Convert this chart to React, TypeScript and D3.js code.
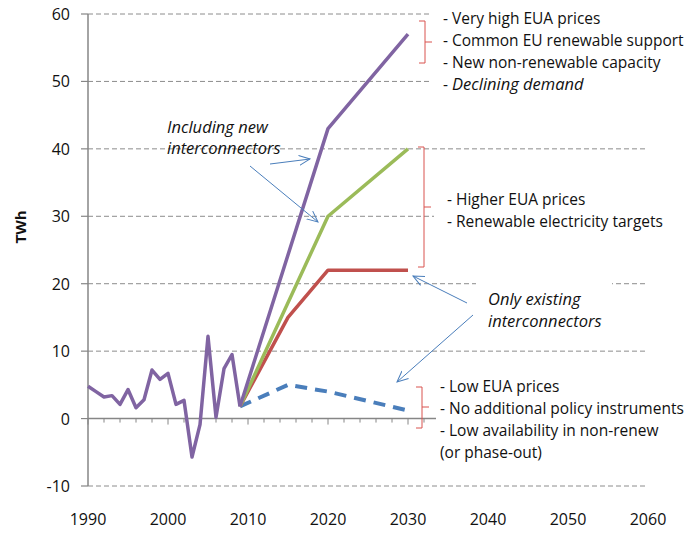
import React from "react";
import * as d3 from "d3";

const histYears = [1990, 1991, 1992, 1993, 1994, 1995, 1996, 1997, 1998, 1999, 2000, 2001, 2002, 2003, 2004, 2005, 2006, 2007, 2008, 2009];
const histValues = [4.8, 4.0, 3.2, 3.4, 2.1, 4.3, 1.6, 2.8, 7.2, 5.8, 6.7, 2.1, 2.7, -5.7, -0.9, 12.2, 0.2, 7.4, 9.5, 1.8];

const highYears = [2009, 2020, 2030];
const highValues = [1.8, 43, 57];
const greenYears = [2009, 2020, 2030];
const greenValues = [1.8, 30, 40];
const redYears = [2009, 2015, 2020, 2030];
const redValues = [1.8, 15, 22, 22];
const lowYears = [2009, 2015, 2020, 2030];
const lowValues = [1.8, 5, 4, 1.2];

const yTicks = [-10, 0, 10, 20, 30, 40, 50, 60];
const xTicks = [1990, 2000, 2010, 2020, 2030, 2040, 2050, 2060];

const topNotes = ["- Very high EUA prices", "- Common EU renewable support", "- New non-renewable capacity"];
const topItalic = "- Declining demand";
const midNotes = ["- Higher EUA prices", "- Renewable electricity targets"];
const lowNotes = ["- Low EUA  prices", "- No additional policy instruments", "- Low availability in non-renew", "(or phase-out)"];
const inclLabel = ["Including new", "interconnectors"];
const onlyLabel = ["Only existing", "interconnectors"];

const FONT = "'Open Sans', sans-serif";

export default function App() {
  const x = d3.scaleLinear().domain([1990, 2060]).range([88, 648]);
  const y = d3.scaleLinear().domain([-10, 60]).range([486, 14]);
  const line = (xs: number[], vs: number[]) =>
    d3.line<number>().x((_, i) => x(xs[i])).y((v) => y(v))(vs) || "";

  const minor = d3.range(1990, 2061, 2);
  const blue = "#4a7ebb";
  const red = "#d9534f";
  const grid = "#8c8c8c";
  const txt = "#111";

  const bracket = (xv: number, y0: number, y1: number, ym: number) =>
    `M${xv - 6},${y0} L${xv},${y0} L${xv},${y1} L${xv - 6},${y1} M${xv},${ym} L${xv + 7},${ym}`;

  return (
    <svg width={686} height={533} style={{ position: "absolute", left: 0, top: 0, background: "#fff" }} fontFamily={FONT}>
      <defs>
        <marker id="arr" viewBox="0 0 12 12" refX={11} refY={6} markerWidth={12} markerHeight={12} markerUnits="userSpaceOnUse" orient="auto">
          <path d="M0,1 L11,6 L0,11" fill="none" stroke={blue} strokeWidth={1} />
        </marker>
      </defs>
      {/* gridlines */}
      {yTicks.filter((t) => t !== 0).map((t) => (
        <line key={t} x1={x(1990)} x2={x(2060)} y1={y(t)} y2={y(t)} stroke={grid} strokeWidth={1} strokeDasharray="5,3" />
      ))}
      {/* y axis */}
      <line x1={x(1990)} x2={x(1990)} y1={y(60)} y2={y(-10)} stroke="#868686" strokeWidth={1.5} />
      {yTicks.map((t) => (
        <g key={t}>
          <line x1={x(1990) - 7} x2={x(1990)} y1={y(t)} y2={y(t)} stroke="#868686" strokeWidth={1.2} />
          <text x={70} y={y(t) + 6} textAnchor="end" fontSize={16} fill={txt}>{t}</text>
        </g>
      ))}
      {/* x axis at zero */}
      <line x1={x(1990)} x2={x(2060)} y1={y(0)} y2={y(0)} stroke="#868686" strokeWidth={1.5} />
      {minor.map((t) => (
        <line key={t} x1={x(t)} x2={x(t)} y1={y(0)} y2={y(0) + (t % 10 === 0 ? 6 : 4)} stroke="#868686" strokeWidth={1} />
      ))}
      {xTicks.map((t) => (
        <text key={t} x={x(t)} y={525} textAnchor="middle" fontSize={16} fill={txt}>{t}</text>
      ))}
      <text transform={`translate(26,227) rotate(-90)`} textAnchor="middle" fontSize={15} fontWeight="bold" fill={txt}>TWh</text>

      {/* text boxes covering gridlines */}
      <rect x={429} y={0} width={257} height={98} fill="#fff" />
      <rect x={434} y={180} width={252} height={60} fill="#fff" />
      <rect x={476} y={280} width={136} height={55} fill="#fff" />
      <rect x={436} y={375} width={250} height={95} fill="#fff" />

      {/* series */}
      <path d={line(lowYears, lowValues)} fill="none" stroke={blue} strokeWidth={4} strokeDasharray="12,8" />
      <path d={line(redYears, redValues)} fill="none" stroke="#c0504d" strokeWidth={3.5} strokeLinejoin="round" />
      <path d={line(greenYears, greenValues)} fill="none" stroke="#9bbb59" strokeWidth={3.5} strokeLinejoin="round" />
      <path d={line(highYears, highValues)} fill="none" stroke="#8064a2" strokeWidth={3.5} strokeLinejoin="round" />
      <path d={line(histYears, histValues)} fill="none" stroke="#8064a2" strokeWidth={3.5} strokeLinejoin="round" />

      {/* annotations */}
      <g fontSize={15.5} fill={txt}>
        {topNotes.map((s, i) => (
          <text key={s} x={443} y={24 + i * 22}>{s}</text>
        ))}
        <text x={443} y={90}>
          <tspan>- </tspan>
          <tspan fontStyle="italic" fontSize={16.5}>{topItalic.slice(2)}</tspan>
        </text>
        {midNotes.map((s, i) => (
          <text key={s} x={447} y={205 + i * 22}>{s}</text>
        ))}
        {lowNotes.map((s, i) => (
          <text key={s} x={440} y={392 + i * 22}>{s}</text>
        ))}
        {inclLabel.map((s, i) => (
          <text key={s} x={167} y={133 + i * 21} fontStyle="italic" fontSize={16.5}>{s}</text>
        ))}
        {onlyLabel.map((s, i) => (
          <text key={s} x={488} y={305 + i * 22} fontStyle="italic" fontSize={16.5}>{s}</text>
        ))}
      </g>

      {/* brackets */}
      <path d={bracket(425, 21, 63, 42)} fill="none" stroke={red} strokeWidth={1} />
      <path d={bracket(424, 147, 267, 207)} fill="none" stroke={red} strokeWidth={1} />
      <path d={bracket(422, 387, 428, 407)} fill="none" stroke={red} strokeWidth={1} />

      {/* arrows */}
      <line x1={270} y1={164} x2={310} y2={159} stroke={blue} strokeWidth={1} markerEnd="url(#arr)" />
      <line x1={250} y1={166} x2={318} y2={222} stroke={blue} strokeWidth={1} markerEnd="url(#arr)" />
      <line x1={467} y1={303} x2={413} y2={276} stroke={blue} strokeWidth={1} markerEnd="url(#arr)" />
      <line x1={473} y1={315} x2={397} y2={382} stroke={blue} strokeWidth={1} markerEnd="url(#arr)" />
    </svg>
  );
}
